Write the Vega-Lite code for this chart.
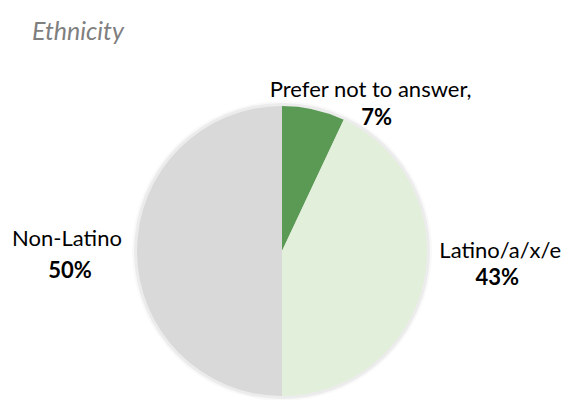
{
  "$schema": "https://vega.github.io/schema/vega-lite/v6.json",
  "autosize": {"type": "none"},
  "width": 564,
  "height": 298,
  "padding": {"left": 0, "top": 102, "right": 20, "bottom": 0},
  "background": "white",
  "title": {
    "text": "Ethnicity",
    "anchor": "start",
    "frame": "group",
    "dx": 32,
    "offset": -64,
    "baseline": "alphabetic",
    "font": "Lato",
    "fontSize": 25,
    "fontStyle": "italic",
    "fontWeight": "normal",
    "color": "#7F7F7F"
  },
  "data": {
    "values": [
      {"category": "Prefer not to answer", "label": "Prefer not to answer,", "value": 0.07, "rank": 1},
      {"category": "Latino/a/x/e", "label": "Latino/a/x/e", "value": 0.43, "rank": 2},
      {"category": "Non-Latino", "label": "Non-Latino", "value": 0.50, "rank": 3}
    ]
  },
  "encoding": {
    "theta": {"field": "value", "type": "quantitative", "stack": true},
    "order": {"field": "rank", "type": "quantitative"}
  },
  "layer": [
    {
      "mark": {"type": "arc", "radius": 150, "color": "#000000", "opacity": 0.025}
    },
    {
      "mark": {"type": "arc", "radius": 148, "color": "#000000", "opacity": 0.05}
    },
    {
      "mark": {"type": "arc", "radius": 145},
      "encoding": {
        "color": {
          "field": "category",
          "type": "nominal",
          "scale": {
            "domain": ["Prefer not to answer", "Latino/a/x/e", "Non-Latino"],
            "range": ["#5B9A55", "#E2EFDA", "#D9D9D9"]
          },
          "legend": null
        }
      }
    },
    {
      "mark": {"type": "text", "radius": 200, "dx": 45, "dy": 34, "font": "Lato", "fontSize": 22, "color": "#000000", "align": "center", "baseline": "middle"},
      "encoding": {"text": {"field": "label", "condition": {"test": "datum.category !== 'Prefer not to answer'", "value": ""}}}
    },
    {
      "mark": {"type": "text", "radius": 200, "dx": 51, "dy": 62, "font": "Lato", "fontSize": 22, "fontWeight": "bold", "color": "#000000", "align": "center", "baseline": "middle"},
      "encoding": {"text": {"field": "value", "format": ".0%", "condition": {"test": "datum.category !== 'Prefer not to answer'", "value": ""}}}
    },
    {
      "mark": {"type": "text", "radius": 200, "dx": 23, "dy": -44, "font": "Lato", "fontSize": 22, "color": "#000000", "align": "center", "baseline": "middle"},
      "encoding": {"text": {"field": "label", "condition": {"test": "datum.category !== 'Latino/a/x/e'", "value": ""}}}
    },
    {
      "mark": {"type": "text", "radius": 200, "dx": 20, "dy": -17, "font": "Lato", "fontSize": 22, "fontWeight": "bold", "color": "#000000", "align": "center", "baseline": "middle"},
      "encoding": {"text": {"field": "value", "format": ".0%", "condition": {"test": "datum.category !== 'Latino/a/x/e'", "value": ""}}}
    },
    {
      "mark": {"type": "text", "radius": 200, "dx": -15, "dy": -12, "font": "Lato", "fontSize": 22, "color": "#000000", "align": "center", "baseline": "middle"},
      "encoding": {"text": {"field": "label", "condition": {"test": "datum.category !== 'Non-Latino'", "value": ""}}}
    },
    {
      "mark": {"type": "text", "radius": 200, "dx": -12, "dy": 20, "font": "Lato", "fontSize": 22, "fontWeight": "bold", "color": "#000000", "align": "center", "baseline": "middle"},
      "encoding": {"text": {"field": "value", "format": ".0%", "condition": {"test": "datum.category !== 'Non-Latino'", "value": ""}}}
    }
  ],
  "config": {"view": {"stroke": null}}
}
